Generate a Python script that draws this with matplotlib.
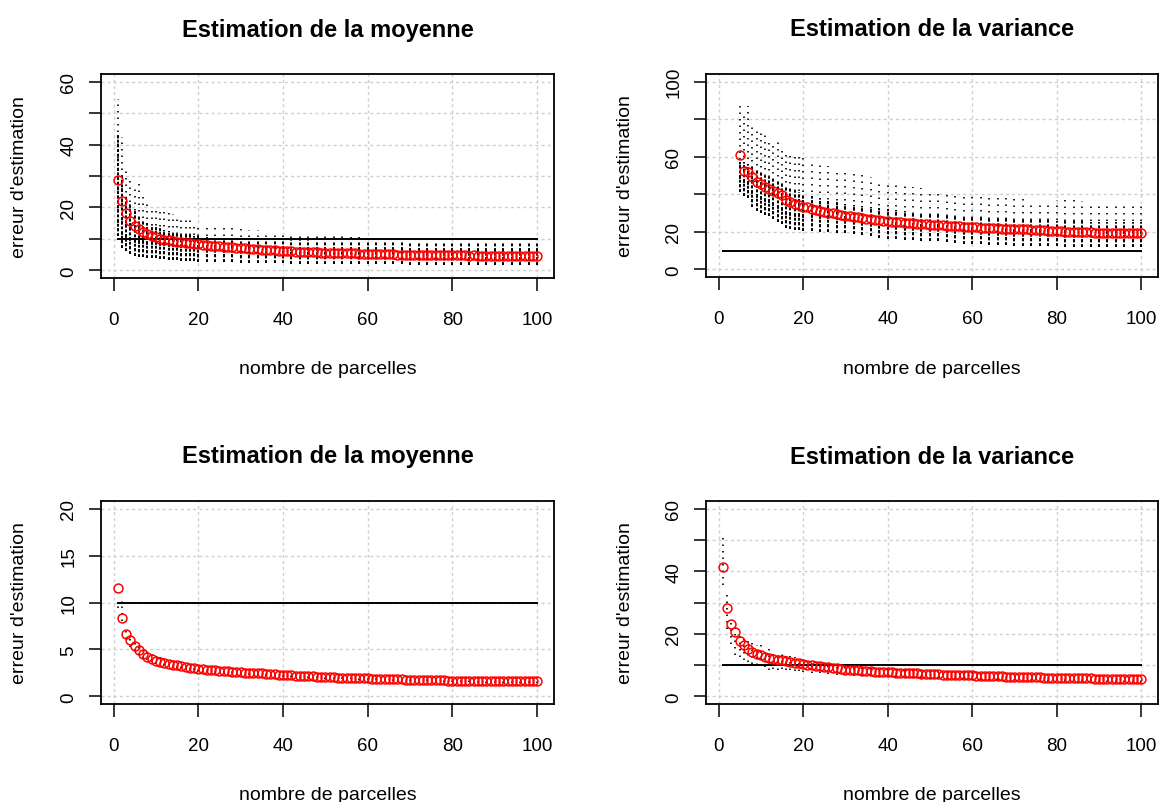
import matplotlib
matplotlib.use("Agg")
import matplotlib.pyplot as plt
import numpy as np

# ---------------- data ----------------
x_all = list(range(1, 101))
x_var_top = list(range(5, 101))
seuil = 10

# Panel 1 : Estimation de la moyenne (haut)
p1_mean = [28.7, 22.2, 18.3, 15.6, 14.2, 13.1, 12.2, 11.6, 11.0, 10.5,
           10.1, 9.8, 9.6, 9.3, 9.1, 8.9, 8.8, 8.6, 8.5, 8.4,
           8.2, 8.1, 7.9, 7.8, 7.7, 7.5, 7.4, 7.3, 7.2, 7.1,
           7.0, 6.9, 6.8, 6.8, 6.6, 6.6, 6.5, 6.4, 6.3, 6.2,
           6.2, 6.1, 6.0, 6.0, 5.9, 5.9, 5.8, 5.8, 5.7, 5.7,
           5.6, 5.6, 5.5, 5.5, 5.4, 5.4, 5.4, 5.3, 5.3, 5.2,
           5.2, 5.2, 5.1, 5.1, 5.1, 5.1, 5.0, 5.0, 5.0, 5.0,
           5.0, 4.9, 4.9, 4.9, 4.9, 4.9, 4.9, 4.8, 4.8, 4.8,
           4.8, 4.8, 4.8, 4.7, 4.8, 4.7, 4.7, 4.7, 4.7, 4.7,
           4.7, 4.6, 4.7, 4.6, 4.6, 4.6, 4.6, 4.6, 4.6, 4.6]
cols_a = list(range(1, 21)) + list(range(22, 101, 2))
p1_lo = [10.8, 7.0, 6.3, 5.2, 4.5, 4.4, 4.2, 4.0, 3.9, 3.8,
         3.7, 3.5, 3.4, 3.3, 3.2, 3.1, 3.0, 3.0, 2.9, 2.8,
         2.8, 2.7, 2.6, 2.6, 2.5, 2.5, 2.4, 2.4, 2.3, 2.3,
         2.2, 2.2, 2.2, 2.1, 2.1, 2.1, 2.0, 2.0, 2.0, 1.9,
         1.9, 1.9, 1.9, 1.9, 1.8, 1.8, 1.8, 1.8, 1.8, 1.8,
         1.8, 1.7, 1.7, 1.7, 1.7, 1.7, 1.7, 1.7, 1.7, 1.7]
p1_mid = [43.0, 30.0, 24.0, 21.0, 19.0, 17.0, 16.0, 15.0, 14.5, 14.0,
          13.5, 13.0, 12.5, 12.2, 12.0, 11.6, 11.4, 11.2, 11.0, 10.8,
          10.6, 10.4, 10.2, 10.1, 10.0, 9.9, 9.9, 9.8, 9.8, 9.7,
          9.7, 9.6, 9.6, 9.5, 9.5, 9.4, 9.4, 9.4, 9.3, 9.3,
          9.3, 9.2, 9.2, 9.2, 9.1, 9.1, 9.1, 9.1, 9.0, 9.0,
          9.0, 9.0, 9.0, 8.9, 8.9, 8.9, 8.9, 8.9, 8.8, 8.8]
p1_hi = [54.6, 42.4, 32.0, 30.0, 27.0, 27.4, 25.0, 22.0, 20.5, 20.4,
         19.5, 19.0, 18.5, 18.0, 17.5, 17.0, 16.5, 16.0, 15.5, 15.0,
         14.6, 14.2, 13.8, 13.5, 13.3, 13.0, 12.8, 12.5, 12.2, 12.0,
         11.8, 11.6, 11.5, 11.3, 11.1, 11.0, 10.8, 10.6, 10.5, 10.4,
         10.3, 10.2, 10.1, 10.0, 10.0, 9.9, 9.8, 9.8, 9.7, 9.6,
         9.6, 9.5, 9.5, 9.4, 9.4, 9.3, 9.3, 9.2, 9.2, 9.2]

# Panel 2 : Estimation de la variance (haut)
p2_mean = [61.1, 52.2, 52.0, 49.2, 46.5, 45.6, 44.0, 43.0, 41.5, 40.5, 39.8, 37.0,
           35.8, 35.0, 34.2, 33.5,
           33.0, 32.4, 31.9, 31.2, 30.7, 30.3, 29.9, 29.4, 29.0, 28.7,
           28.4, 28.0, 27.8, 27.4, 27.1, 26.8, 26.5, 26.2, 25.9, 25.6,
           25.4, 25.2, 25.0, 24.9, 24.7, 24.5, 24.4, 24.2, 24.0, 23.9,
           23.8, 23.6, 23.5, 23.3, 23.2, 23.1, 22.9, 22.8, 22.7, 22.5,
           22.4, 22.3, 22.2, 22.1, 22.0, 21.9, 21.8, 21.7, 21.7, 21.6,
           21.5, 21.4, 21.3, 21.2, 21.0, 20.9, 20.8, 20.7, 20.5, 20.4,
           20.3, 20.2, 20.1, 20.0, 19.9, 19.9, 19.8, 19.7, 19.6, 19.5,
           19.5, 19.4, 19.4, 19.3, 19.3, 19.3, 19.3, 19.2, 19.2, 19.3]
cols_b = list(range(5, 21)) + list(range(22, 101, 2))
p2_lo = [41, 39, 38, 33, 31, 30, 29, 28.5, 27, 25, 24, 22, 21.5, 21, 21, 20.7,
         20.5, 20.2, 19.9, 19.6, 19.3, 18.8, 18.2, 17.6, 16.8, 16.2,
         16.0, 15.8, 15.6, 15.4, 15.2, 14.9, 14.5, 14.1, 13.8, 13.5,
         13.4, 13.2, 13.0, 12.9, 12.7, 12.6, 12.5, 12.4, 12.4, 12.3,
         12.2, 12.1, 12.0, 11.9, 11.8, 11.8, 11.8, 11.8, 11.8, 11.8]
p2_mid = [57, 57, 56, 55, 53, 52, 50, 49, 48, 47, 46, 44, 43, 42, 41, 40,
          39, 38, 37, 36, 35, 34.5, 34, 33, 32.5, 32,
          31.5, 31, 30.5, 30, 29.8, 29.5, 29.2, 29, 28.6, 28.2,
          28, 27.8, 27.5, 27.2, 27, 26.8, 26.6, 26.4, 26.2, 26,
          25.8, 25.7, 25.6, 25.5, 25.4, 25.3, 25.2, 25.1, 25, 25]
p2_hi = [88.8, 82, 87, 77, 75, 75, 73, 70, 68, 70, 63, 62, 61, 61, 60, 60,
         58, 56, 55, 53, 52.2, 52, 51.5, 49, 47, 45.6,
         45, 44.2, 43.8, 43.3, 43, 42.4, 41.6, 41, 40.7, 40.3,
         39.6, 38.8, 38.4, 38.2, 38, 37.3, 36.2, 35.8, 36.2, 36.7,
         36.7, 36.7, 36.5, 36, 35.8, 35.5, 35.2, 35, 35, 35]

# Panel 3 : Estimation de la moyenne (bas)
p3_mean = [11.5, 8.3, 6.6, 6.0, 5.4, 4.9, 4.5, 4.2, 4.0, 3.8,
           3.7, 3.6, 3.5, 3.4, 3.3, 3.2, 3.1, 3.0, 3.0, 2.95,
           2.9, 2.85, 2.8, 2.8, 2.75, 2.7, 2.7, 2.65, 2.6, 2.6,
           2.55, 2.5, 2.5, 2.45, 2.45, 2.4, 2.4, 2.35, 2.3, 2.3,
           2.25, 2.25, 2.2, 2.2, 2.2, 2.15, 2.15, 2.1, 2.1, 2.1,
           2.05, 2.05, 2.0, 2.0, 2.0, 2.0, 1.95, 1.95, 1.95, 1.95,
           1.9, 1.9, 1.9, 1.9, 1.85, 1.85, 1.85, 1.85, 1.8, 1.8,
           1.8, 1.8, 1.8, 1.75, 1.75, 1.75, 1.75, 1.75, 1.7, 1.7,
           1.7, 1.7, 1.7, 1.7, 1.7, 1.65, 1.65, 1.65, 1.65, 1.65,
           1.65, 1.6, 1.6, 1.6, 1.6, 1.6, 1.6, 1.6, 1.6, 1.6]
p3_lo = [9.4, 8.0, 6.1, 5.3, 4.8, 4.4, 4.1, 3.9, 3.7, 3.5,
         3.4, 3.3, 3.2, 3.1, 3.0, 3.0, 2.9, 2.8, 2.8, 2.7,
         2.6, 2.55, 2.5, 2.45, 2.4, 2.3, 2.25, 2.2, 2.15, 2.1,
         2.05, 2.0, 2.0, 1.95, 1.9, 1.9, 1.85, 1.85, 1.8, 1.75,
         1.75, 1.7, 1.7, 1.65, 1.65, 1.6, 1.6, 1.55, 1.55, 1.5,
         1.5, 1.5, 1.45, 1.45, 1.45, 1.4, 1.4, 1.4, 1.4, 1.4]
p3_hi = [10.1, 10.2, 7.2, 6.6, 6.2, 5.7, 5.3, 4.9, 4.7, 4.4,
         4.3, 4.1, 3.9, 3.8, 3.7, 3.6, 3.5, 3.4, 3.4, 3.3,
         3.2, 3.1, 3.05, 3.0, 2.95, 2.9, 2.8, 2.75, 2.7, 2.65,
         2.6, 2.55, 2.5, 2.45, 2.4, 2.4, 2.35, 2.3, 2.3, 2.25,
         2.2, 2.2, 2.15, 2.15, 2.1, 2.1, 2.05, 2.05, 2.0, 2.0,
         2.0, 1.95, 1.95, 1.95, 1.9, 1.9, 1.9, 1.85, 1.85, 1.85]

# Panel 4 : Estimation de la variance (bas)
p4_mean = [41.4, 28.3, 23.2, 20.6, 17.6, 16.3, 15.2, 14.2, 13.6, 13.1,
           12.7, 12.3, 12.0, 11.7, 11.5, 11.2, 11.0, 10.8, 10.6, 10.4,
           10.2, 10.0, 9.8, 9.7, 9.5, 9.3, 9.1, 9.0, 8.8, 8.6,
           8.5, 8.4, 8.3, 8.2, 8.1, 8.0, 7.9, 7.9, 7.8, 7.8,
           7.7, 7.6, 7.6, 7.5, 7.5, 7.4, 7.4, 7.3, 7.2, 7.2,
           7.1, 7.1, 7.0, 7.0, 6.9, 6.9, 6.8, 6.8, 6.7, 6.7,
           6.6, 6.6, 6.5, 6.5, 6.5, 6.4, 6.4, 6.3, 6.3, 6.3,
           6.2, 6.2, 6.2, 6.1, 6.1, 6.1, 6.0, 6.0, 6.0, 5.9,
           5.9, 5.9, 5.9, 5.8, 5.8, 5.8, 5.8, 5.8, 5.7, 5.7,
           5.7, 5.7, 5.7, 5.7, 5.6, 5.6, 5.6, 5.6, 5.6, 5.6]
p4_lo = [35.5, 21.6, 16.8, 13.3, 12.5, 11.5, 11.0, 10.5, 10.2, 9.8,
         9.5, 8.3, 8.8, 8.6, 8.8, 8.5, 8.3, 8.0, 8.0, 7.9,
         7.6, 7.4, 7.2, 7.0, 6.8, 6.6, 6.5, 6.4, 6.3, 6.2,
         6.1, 6.0, 5.9, 5.8, 5.7, 5.7, 5.6, 5.5, 5.5, 5.4,
         5.3, 5.3, 5.2, 5.2, 5.1, 5.1, 5.0, 5.0, 4.9, 4.9,
         4.9, 4.8, 4.8, 4.8, 4.7, 4.7, 4.7, 4.6, 4.6, 4.6]
p4_hi = [51.5, 32.8, 25.0, 22.7, 21.0, 19.5, 18.5, 17.0, 16.5, 16.3,
         15.5, 15.0, 14.5, 14.0, 13.5, 13.0, 12.8, 12.5, 12.2, 12.0,
         11.8, 11.5, 11.0, 10.8, 10.5, 10.2, 10.0, 9.6, 9.3, 9.0,
         8.9, 8.7, 8.6, 8.4, 8.3, 8.2, 8.0, 7.9, 7.8, 7.7,
         7.6, 7.5, 7.4, 7.3, 7.3, 7.2, 7.1, 7.0, 7.0, 6.9,
         6.9, 6.8, 6.8, 6.7, 6.7, 6.6, 6.6, 6.6, 6.5, 6.5]

titles = ["Estimation de la moyenne", "Estimation de la variance",
          "Estimation de la moyenne", "Estimation de la variance"]
xlab = "nombre de parcelles"
ylab = "erreur d'estimation"
xticks = [0, 20, 40, 60, 80, 100]
yticks = [[0, 10, 20, 30, 40, 50, 60], [0, 20, 40, 60, 80, 100],
          [0, 5, 10, 15, 20], [0, 10, 20, 30, 40, 50, 60]]
ytick_labels = [["0", "", "20", "", "40", "", "60"],
                ["0", "20", "", "60", "", "100"],
                ["0", "5", "10", "15", "20"],
                ["0", "", "20", "", "40", "", "60"]]
ylims = [(0, 60), (0, 100), (0, 20), (0, 60)]

# ---------------- fonts ----------------
plt.rcParams['font.family'] = ['Liberation Sans', 'DejaVu Sans']
tick_size = 13.5

W, H = 1160, 803
fig = plt.figure(figsize=(W / 100, H / 100), dpi=100)
fig.patch.set_facecolor('white')

boxes = [(101, 75, 554, 279), (706, 75, 1158, 278),
         (101, 502, 554, 705), (706, 502, 1158, 705)]

panels = [
    dict(mx=x_all, my=p1_mean, cx=cols_a, lo=p1_lo, mid=p1_mid, hi=p1_hi),
    dict(mx=x_var_top, my=p2_mean, cx=cols_b, lo=p2_lo, mid=p2_mid, hi=p2_hi),
    dict(mx=x_all, my=p3_mean, cx=cols_a, lo=p3_lo, mid=None, hi=p3_hi),
    dict(mx=x_all, my=p4_mean, cx=cols_a, lo=p4_lo, mid=None, hi=p4_hi),
]

for i, (box, pdat) in enumerate(zip(boxes, panels)):
    l, t, r, b = box
    ax = fig.add_axes([l / W, 1 - b / H, (r - l) / W, (b - t) / H])
    lo_, hi_ = ylims[i]
    ext = 0.04 * (hi_ - lo_)
    ax.set_ylim(lo_ - ext, hi_ + ext)
    ax.set_xlim(1 - 0.04 * 99, 100 + 0.04 * 99)

    # grid
    for xv in xticks:
        ax.axvline(xv, color='#cfcfcf', lw=1.0, ls=(0, (2.2, 2.2)), zorder=0)
    for yv in yticks[i]:
        ax.axhline(yv, color='#cfcfcf', lw=1.0, ls=(0, (2.2, 2.2)), zorder=0)

    # simulated points (columns of dots)
    cx = pdat['cx']
    ax.vlines(cx, pdat['lo'], pdat['hi'], colors='black', lw=1.2,
              linestyles=[(0, (0.9, 3.0))], zorder=2)
    if pdat['mid'] is not None:
        ax.vlines(cx, pdat['lo'], pdat['mid'], colors='black', lw=1.4,
                  linestyles=[(0, (1.5, 0.9))], zorder=2)

    # threshold line
    ax.plot([x_all[0], x_all[-1]], [seuil, seuil], color='black', lw=1.4, zorder=3)

    # mean error (red open circles)
    ax.plot(pdat['mx'], pdat['my'], ls='none', marker='o', ms=6.4,
            mfc='none', mec='red', mew=1.1, zorder=4)

    ax.set_xticks(xticks)
    ax.set_xticklabels([str(v) for v in xticks])
    ax.set_yticks(yticks[i])
    ax.set_yticklabels(ytick_labels[i], rotation=90, va='center')
    ax.tick_params(axis='both', direction='out', length=9, width=1.1, color='black',
                   labelsize=tick_size)
    ax.tick_params(axis='x', pad=15)
    ax.tick_params(axis='y', pad=8)
    for sp in ax.spines.values():
        sp.set_linewidth(1.3)
        sp.set_color('black')

    cxp = (l + r) / 2
    ty = 30 if i < 2 else 457
    fig.text(cxp / W, 1 - ty / H, titles[i], ha='center', va='center',
             fontsize=17, fontweight='bold')
    xy = 369 if i < 2 else 796
    fig.text(cxp / W, 1 - xy / H, xlab, ha='center', va='center', fontsize=14)
    yx = 20 if i % 2 == 0 else 626
    fig.text(yx / W, 1 - ((t + b) / 2) / H, ylab, ha='center', va='center',
             rotation=90, fontsize=14)

fig.savefig('out.png', dpi=100)
